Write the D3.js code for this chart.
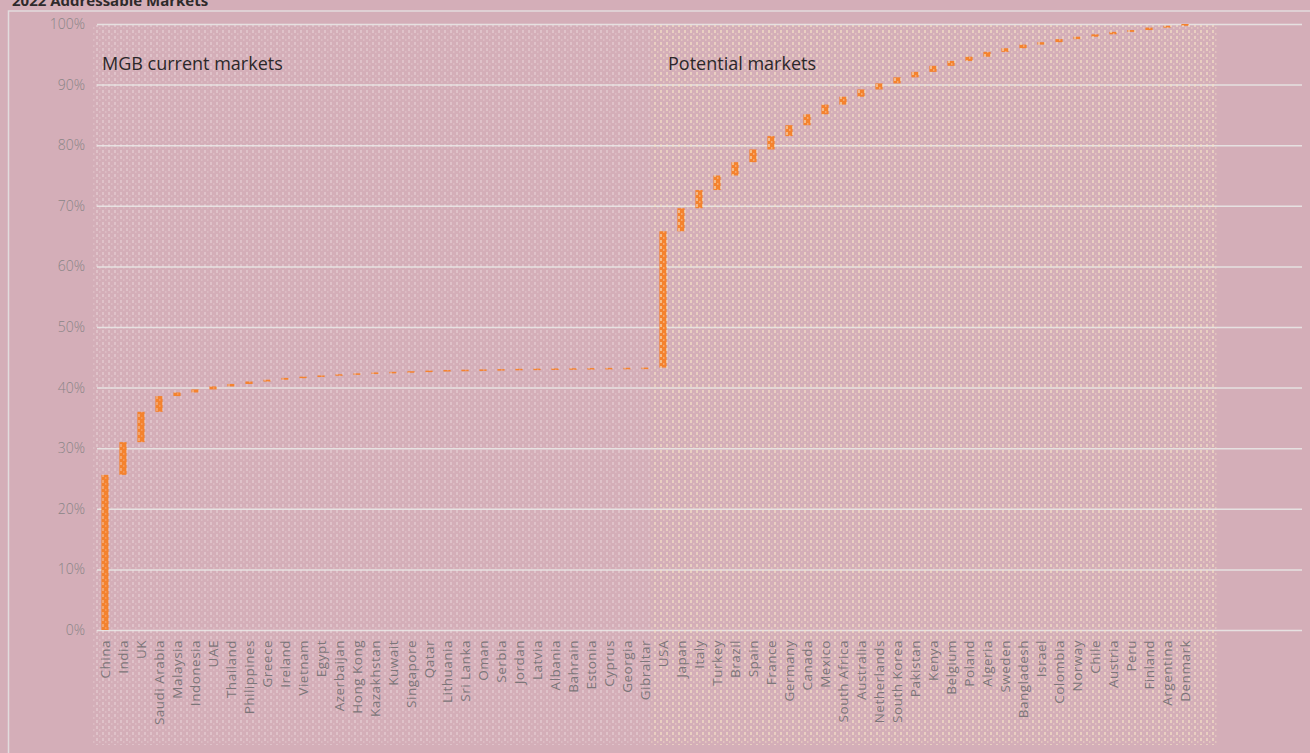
<!DOCTYPE html>
<html>
<head>
<meta charset="utf-8">
<script src="https://cdn.jsdelivr.net/npm/d3@7"></script>
<style>
  html, body { margin: 0; padding: 0; background: #d4aeb8; overflow: hidden; }
  text { font-family: "Open Sans", "Lato", sans-serif; }
</style>
</head>
<body>
<svg id="chart"></svg>
<script>
// Countries MGB already sells in, then potential markets (share of addressable market, %)
var currentMarkets = ["China", "India", "UK", "Saudi Arabia", "Malaysia", "Indonesia", "UAE", "Thailand",
  "Philippines", "Greece", "Ireland", "Vietnam", "Egypt", "Azerbaijan", "Hong Kong", "Kazakhstan",
  "Kuwait", "Singapore", "Qatar", "Lithuania", "Sri Lanka", "Oman", "Serbia", "Jordan", "Latvia",
  "Albania", "Bahrain", "Estonia", "Cyprus", "Georgia", "Gibraltar"];
var currentShares = [25.6, 5.4, 5.0, 2.6, 0.6, 0.5, 0.5, 0.4, 0.4, 0.3, 0.3, 0.2, 0.2, 0.2, 0.15, 0.15,
  0.1, 0.1, 0.1, 0.1, 0.05, 0.05, 0.05, 0.05, 0.03, 0.03, 0.03, 0.03, 0.03, 0.02, 0.03];

var potentialMarkets = ["USA", "Japan", "Italy", "Turkey", "Brazil", "Spain", "France", "Germany",
  "Canada", "Mexico", "South Africa", "Australia", "Netherlands", "South Korea", "Pakistan", "Kenya",
  "Belgium", "Poland", "Algeria", "Sweden", "Bangladesh", "Israel", "Colombia", "Norway", "Chile",
  "Austria", "Peru", "Finland", "Argentina", "Denmark"];
var potentialShares = [22.5, 3.8, 3.0, 2.4, 2.2, 2.1, 2.2, 1.8, 1.8, 1.6, 1.3, 1.2, 1.0, 1.0, 0.9, 1.0,
  0.8, 0.7, 0.8, 0.6, 0.6, 0.4, 0.5, 0.4, 0.4, 0.4, 0.3, 0.4, 0.3, 0.3];

var yTicks = [0, 10, 20, 30, 40, 50, 60, 70, 80, 90, 100];

var width = 1310, height = 753;
var svg = d3.select("#chart").attr("width", width).attr("height", height);

// build waterfall rows (running total)
var countries = currentMarkets.concat(potentialMarkets);
var shares = currentShares.concat(potentialShares);
var running = 0;
var rows = countries.map(function(c, i) {
    var start = running;
    running += shares[i];
    return {country: c, start: start, end: running, group: i < currentMarkets.length ? "current" : "potential"};
});

var x = d3.scaleBand()
          .domain(countries)
          .range([96, 1194])
          .paddingInner(0.6)
          .paddingOuter(0.3);

var y = d3.scaleLinear()
          .domain([0, 100])
          .range([630, 24]);

// dotted textures
var defs = svg.append("defs");
function dotPattern(id, color, opacity) {
    var p = defs.append("pattern")
                .attr("id", id)
                .attr("patternUnits", "userSpaceOnUse")
                .attr("width", 6)
                .attr("height", 6);
    p.append("rect").attr("x", 0).attr("y", 0).attr("width", 2).attr("height", 3)
     .attr("fill", color).attr("fill-opacity", opacity);
    p.append("rect").attr("x", 3).attr("y", 3).attr("width", 1.5).attr("height", 2)
     .attr("fill", color).attr("fill-opacity", opacity * 0.7);
}
dotPattern("dotsCurrent", "#f3e6e6", 0.35);
dotPattern("dotsPotential", "#f7e4c6", 0.6);

// title (partly cut at the top, as in the source) and frame
svg.append("text")
   .attr("x", 12)
   .attr("y", 6)
   .attr("font-size", "15px")
   .attr("font-weight", "bold")
   .attr("fill", "#2e2a2b")
   .text("2022 Addressable Markets");

svg.append("rect")
   .attr("x", 8.5).attr("y", 11)
   .attr("width", 1320).attr("height", 760)
   .attr("fill", "none")
   .attr("stroke", "#e2dcdd")
   .attr("stroke-width", 1.5);

// y axis with gridlines
var yAxis = svg.append("g")
               .attr("transform", "translate(97,0)")
               .call(d3.axisLeft(y)
                       .tickValues(yTicks)
                       .tickSize(-(1302 - 97))
                       .tickPadding(12)
                       .tickFormat(function(d) { return d + "%"; }));
yAxis.select(".domain").remove();
yAxis.selectAll("line")
     .attr("stroke", "#e6e1e1")
     .attr("stroke-width", 1.5);
yAxis.selectAll("text")
     .attr("font-size", "14px")
     .attr("font-weight", 300)
     .attr("fill", "#8a8587")
     .style("font-family", "'Open Sans', sans-serif");

// waterfall bars
svg.append("g")
   .selectAll(".bar")
   .data(rows)
   .enter()
   .append("rect")
     .classed("bar", true)
     .attr("x", d => x(d.country))
     .attr("width", x.bandwidth())
     .attr("y", d => y(d.end))
     .attr("height", d => Math.max(1.5, y(d.start) - y(d.end)))
     .attr("fill", "#f4822e");

// texture over the two market groups
var firstPot = x(potentialMarkets[0]) - x.step() * 0.45;
svg.append("rect")
   .attr("x", 93).attr("y", 25)
   .attr("width", firstPot - 93).attr("height", 720)
   .attr("fill", "url(#dotsCurrent)");
svg.append("rect")
   .attr("x", firstPot).attr("y", 25)
   .attr("width", 1218 - firstPot).attr("height", 720)
   .attr("fill", "url(#dotsPotential)");

// x labels, rotated
svg.append("g")
   .selectAll(".xlabel")
   .data(countries)
   .enter()
   .append("text")
     .classed("xlabel", true)
     .attr("transform", d => "translate(" + (x(d) + x.bandwidth() / 2 + 5) + ",640) rotate(-90)")
     .attr("text-anchor", "end")
     .attr("font-size", "13.5px")
     .attr("letter-spacing", "0.5px")
     .attr("fill", "#7c7679")
     .text(d => d);

// group annotations
svg.append("text")
   .attr("x", 102).attr("y", 70)
   .attr("font-size", "18px")
   .attr("font-weight", 500)
   .attr("fill", "#2b2829")
   .text("MGB current markets");
svg.append("text")
   .attr("x", 668).attr("y", 70)
   .attr("font-size", "18px")
   .attr("font-weight", 500)
   .attr("fill", "#2b2829")
   .text("Potential markets");
</script>
</body>
</html>
